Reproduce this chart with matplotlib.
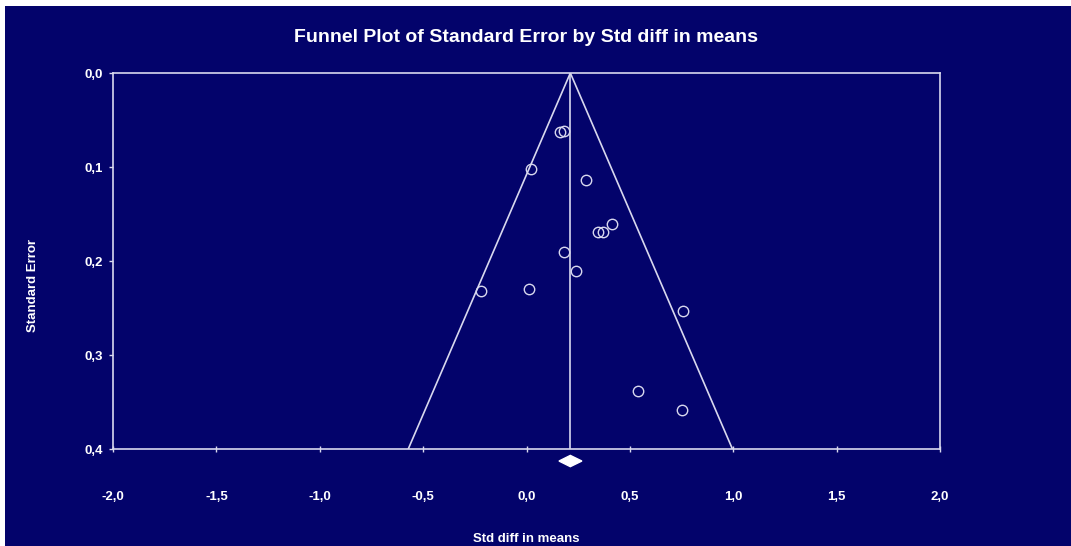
import numpy as np
import matplotlib
matplotlib.use('Agg')
import matplotlib.pyplot as plt
from matplotlib.patches import Rectangle
from matplotlib.ticker import FuncFormatter

# study effects (std diff in means) and their standard errors
std_diff = [0.164, 0.180, 0.023, 0.289, 0.412, 0.344, 0.369,
            0.180, 0.238, 0.012, -0.219, 0.757, 0.541, 0.751]
std_err = [0.063, 0.062, 0.102, 0.114, 0.161, 0.169, 0.1695,
           0.190, 0.211, 0.2295, 0.2316, 0.253, 0.338, 0.358]

# pooled estimate and its confidence interval
pooled = 0.212
ci_low = 0.157
ci_high = 0.268

x_ticks = [-2.0, -1.5, -1.0, -0.5, 0.0, 0.5, 1.0, 1.5, 2.0]
y_ticks = [0.0, 0.1, 0.2, 0.3, 0.4]

bg = '#03036B'
fg = '#D8D8EE'
plt.rcParams['font.family'] = ['Liberation Sans', 'DejaVu Sans']

fig = plt.figure(figsize=(10.71, 5.46), dpi=100, facecolor='white')
# navy panel leaves a thin white strip on the top and left
panel = Rectangle((5 / 1071, 0), 1 - 5 / 1071, 1 - 6 / 546,
                  transform=fig.transFigure, facecolor=bg,
                  edgecolor='none', zorder=-10)
fig.patches.append(panel)

ax = fig.add_axes([113 / 1071, 97 / 546, 827 / 1071, 376 / 546])
ax.set_facecolor(bg)
ax.set_xlim(-2.0, 2.0)
ax.set_ylim(0.4, 0.0)

# funnel: pooled line and 95% limits
se_max = 0.4
ax.plot([pooled, pooled], [0, se_max], color=fg, lw=1.2)
ax.plot([pooled - 1.96 * se_max, pooled, pooled + 1.96 * se_max],
        [se_max, 0, se_max], color=fg, lw=1.2)

ax.plot(std_diff, std_err, 'o', ms=7.5, mfc='none', mec=fg, mew=1.0)

# pooled estimate diamond under the axis
yd = 0.4128
hd = 0.006
ax.fill([ci_low, pooled, ci_high, pooled], [yd, yd - hd, yd, yd + hd],
        color='white', clip_on=False, zorder=5)

for s in ax.spines.values():
    s.set_color(fg)
    s.set_linewidth(1.2)

ax.set_xticks(x_ticks)
ax.set_yticks(y_ticks)
fmt = FuncFormatter(lambda v, p: f'{v:.1f}'.replace('.', ','))
ax.xaxis.set_major_formatter(fmt)
ax.yaxis.set_major_formatter(fmt)
ax.tick_params(axis='x', direction='inout', length=5, width=1, color=fg,
               labelcolor='white', labelsize=9.5, pad=28)
ax.tick_params(axis='y', direction='out', length=3, width=1, color=fg,
               labelcolor='white', labelsize=9.5, pad=4)
for lbl in ax.get_xticklabels() + ax.get_yticklabels():
    lbl.set_fontweight('bold')

fig.text(0.491, 0.932, 'Funnel Plot of Standard Error by Std diff in means',
         ha='center', va='center', color='white', fontsize=14,
         fontweight='bold')
fig.text(0.491, 0.012, 'Std diff in means', ha='center', va='center',
         color='white', fontsize=9.5, fontweight='bold')
fig.text(0.031, 0.478, 'Standard Error', ha='center', va='center',
         rotation=90, color='white', fontsize=9.5, fontweight='bold')

fig.savefig('out.png', dpi=100, facecolor='white')
